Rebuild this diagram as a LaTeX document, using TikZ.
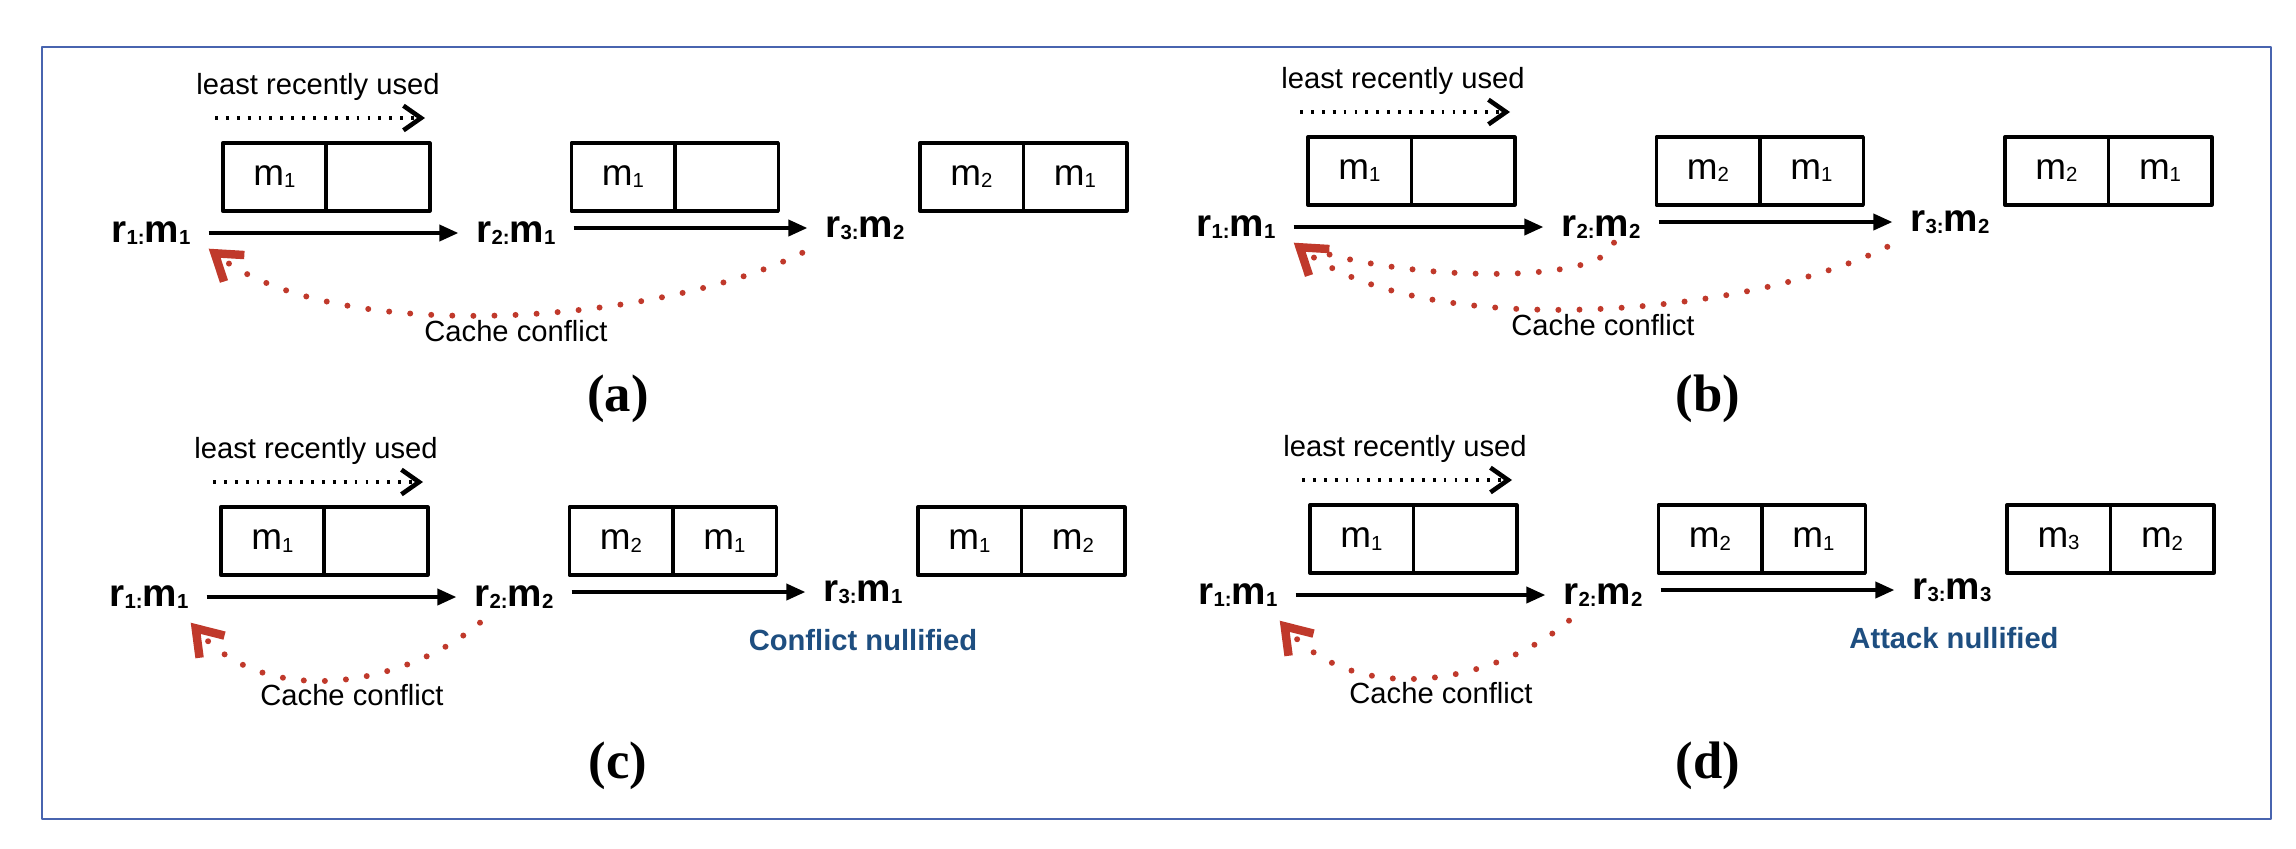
\documentclass[tikz,border=0pt]{standalone}
\usepackage{fontspec}
\setmainfont{Liberation Sans}
\newfontfamily\capfont{Liberation Serif}
\usetikzlibrary{arrows.meta,positioning}

\definecolor{conflictred}{RGB}{192,57,43}
\definecolor{noteblue}{RGB}{30,78,128}
\definecolor{frameblue}{RGB}{72,100,175}

% small index after r and m
\newcommand{\sbs}[1]{\raisebox{-0.6pt}{\fontsize{5.8}{6}\selectfont #1}}

\tikzset{
	cell/.style={draw, line width=1pt, minimum width=1.035cm, minimum height=0.68cm,
		inner sep=0pt, outer sep=0pt, font=\fontsize{10.5}{12}\selectfont},
	req/.style={inner xsep=5pt, inner ysep=1pt, font=\bfseries\fontsize{11}{13}\selectfont},
	lrutext/.style={font=\fontsize{8.3}{10}\selectfont},
	lruarrow/.style={line width=1.3pt, dash pattern=on 0.8pt off 2.3pt,
		-{Straight Barb[length=5pt,width=7pt,line width=1.3pt]}},
	flow/.style={line width=1pt, -{Triangle[length=5.4pt,width=4.6pt]}},
	conflict/.style={draw=conflictred, line width=1.7pt, line cap=round,
		dash pattern=on 0pt off 6pt,
		-{Straight Barb[length=7pt,width=9.5pt,line width=2.4pt]}},
	nullnote/.style={text=noteblue, font=\bfseries\fontsize{8.3}{10}\selectfont},
	sublabel/.style={font=\capfont\bfseries\fontsize{15}{17}\selectfont}
}

\begin{document}
\begin{tikzpicture}[line join=round]

	\useasboundingbox (0,0) rectangle (22.96,-8.48);

	% Frame
	\draw[frameblue, line width=0.7pt] (0.42,-0.47) rectangle (22.71,-8.19);

	% Panel (a)
	\begin{scope}
		\node[lrutext] (alru) at (3.18,-0.87) {least recently used};
		\coordinate (alrus) at (2.15,-1.18);
		\coordinate (alrue) at (4.25,-1.18);
		\draw[lruarrow] (alrus) -- (alrue);

		\node[cell] (a1l) at (2.745,-1.77) {m\sbs{1}};
		\node[cell, right=0pt of a1l] (a1r) {};
		\node[cell] (a2l) at (6.23,-1.77) {m\sbs{1}};
		\node[cell, right=0pt of a2l] (a2r) {};
		\node[cell] (a3l) at (9.715,-1.77) {m\sbs{2}};
		\node[cell, right=0pt of a3l] (a3r) {m\sbs{1}};

		\node[req] (ar1) at (1.51,-2.33) {r\sbs{1:}m\sbs{1}};
		\node[req] (ar2) at (5.16,-2.33) {r\sbs{2:}m\sbs{1}};
		\node[req] (ar3) at (8.65,-2.28) {r\sbs{3:}m\sbs{2}};
		\draw[flow] (ar1) -- (ar2);
		\draw[flow] (ar2.east |- ar3) -- (ar3);

		\draw[conflict] ([shift={(-0.05,-0.09)}]ar3.south west)
			.. controls +(-1.4,-0.7) and +(1.3,-1.0) .. (ar1.south east);
		\node[lrutext] (acc) at (5.16,-3.31) {Cache conflict};
	\end{scope}

	% Panel (b)
	\begin{scope}[shift={(10.85,0.06)}]
		\node[lrutext] (blru) at (3.18,-0.87) {least recently used};
		\coordinate (blrus) at (2.15,-1.18);
		\coordinate (blrue) at (4.25,-1.18);
		\draw[lruarrow] (blrus) -- (blrue);

		\node[cell] (b1l) at (2.745,-1.77) {m\sbs{1}};
		\node[cell, right=0pt of b1l] (b1r) {};
		\node[cell] (b2l) at (6.23,-1.77) {m\sbs{2}};
		\node[cell, right=0pt of b2l] (b2r) {m\sbs{1}};
		\node[cell] (b3l) at (9.715,-1.77) {m\sbs{2}};
		\node[cell, right=0pt of b3l] (b3r) {m\sbs{1}};

		\node[req] (br1) at (1.51,-2.33) {r\sbs{1:}m\sbs{1}};
		\node[req] (br2) at (5.16,-2.33) {r\sbs{2:}m\sbs{2}};
		\node[req] (br3) at (8.65,-2.28) {r\sbs{3:}m\sbs{2}};
		\draw[flow] (br1) -- (br2);
		\draw[flow] (br2.east |- br3) -- (br3);

		\draw[conflict, -] ([xshift=0.13cm]br2.south)
			.. controls +(-0.1,-0.45) and +(0.9,-0.38) .. (br1.south east);
		\draw[conflict] ([shift={(-0.05,-0.09)}]br3.south west)
			.. controls +(-1.4,-0.7) and +(1.3,-1.0) .. (br1.south east);
		\node[lrutext] (bcc) at (5.18,-3.31) {Cache conflict};
	\end{scope}

	% Panel (c)
	\begin{scope}[shift={(-0.02,-3.64)}]
		\node[lrutext] (clru) at (3.18,-0.87) {least recently used};
		\coordinate (clrus) at (2.15,-1.18);
		\coordinate (clrue) at (4.25,-1.18);
		\draw[lruarrow] (clrus) -- (clrue);

		\node[cell] (c1l) at (2.745,-1.77) {m\sbs{1}};
		\node[cell, right=0pt of c1l] (c1r) {};
		\node[cell] (c2l) at (6.23,-1.77) {m\sbs{2}};
		\node[cell, right=0pt of c2l] (c2r) {m\sbs{1}};
		\node[cell] (c3l) at (9.715,-1.77) {m\sbs{1}};
		\node[cell, right=0pt of c3l] (c3r) {m\sbs{2}};

		\node[req] (cr1) at (1.51,-2.33) {r\sbs{1:}m\sbs{1}};
		\node[req] (cr2) at (5.16,-2.33) {r\sbs{2:}m\sbs{2}};
		\node[req] (cr3) at (8.65,-2.28) {r\sbs{3:}m\sbs{1}};
		\draw[flow] (cr1) -- (cr2);
		\draw[flow] (cr2.east |- cr3) -- (cr3);
		\node[nullnote] (cnull) at (8.65,-2.76) {Conflict nullified};

		\draw[conflict] ([shift={(-0.34,-0.1)}]cr2.south)
			.. controls +(-0.7,-0.6) and +(0.8,-0.9) .. ([shift={(-0.16,-0.1)}]cr1.south east);
		\node[lrutext] (ccc) at (3.54,-3.31) {Cache conflict};
	\end{scope}

	% Panel (d)
	\begin{scope}[shift={(10.87,-3.62)}]
		\node[lrutext] (dlru) at (3.18,-0.87) {least recently used};
		\coordinate (dlrus) at (2.15,-1.18);
		\coordinate (dlrue) at (4.25,-1.18);
		\draw[lruarrow] (dlrus) -- (dlrue);

		\node[cell] (d1l) at (2.745,-1.77) {m\sbs{1}};
		\node[cell, right=0pt of d1l] (d1r) {};
		\node[cell] (d2l) at (6.23,-1.77) {m\sbs{2}};
		\node[cell, right=0pt of d2l] (d2r) {m\sbs{1}};
		\node[cell] (d3l) at (9.715,-1.77) {m\sbs{3}};
		\node[cell, right=0pt of d3l] (d3r) {m\sbs{2}};

		\node[req] (dr1) at (1.51,-2.33) {r\sbs{1:}m\sbs{1}};
		\node[req] (dr2) at (5.16,-2.33) {r\sbs{2:}m\sbs{2}};
		\node[req] (dr3) at (8.65,-2.28) {r\sbs{3:}m\sbs{3}};
		\draw[flow] (dr1) -- (dr2);
		\draw[flow] (dr2.east |- dr3) -- (dr3);
		\node[nullnote] (dnull) at (8.67,-2.76) {Attack nullified};

		\draw[conflict] ([shift={(-0.34,-0.1)}]dr2.south)
			.. controls +(-0.7,-0.6) and +(0.8,-0.9) .. ([shift={(-0.16,-0.1)}]dr1.south east);
		\node[lrutext] (dcc) at (3.54,-3.31) {Cache conflict};
	\end{scope}

	% Sub-figure labels
	\node[sublabel] (laba) at (6.18,-3.99) {(a)};
	\node[sublabel] (labb) at (17.08,-3.99) {(b)};
	\node[sublabel] (labc) at (6.18,-7.66) {(c)};
	\node[sublabel] (labd) at (17.08,-7.66) {(d)};

\end{tikzpicture}
\end{document}
